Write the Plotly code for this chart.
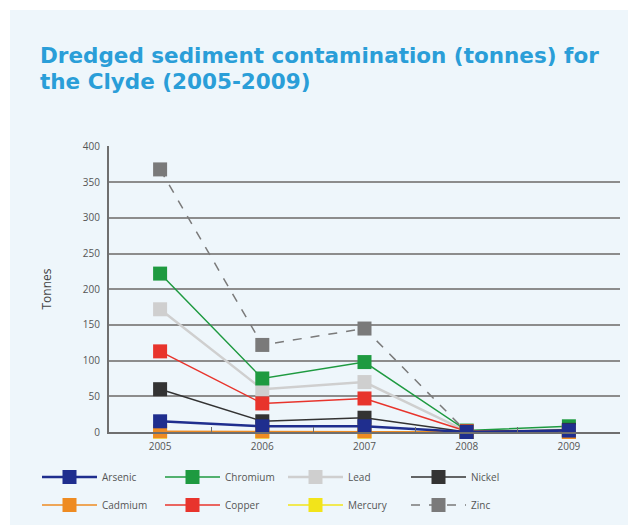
import plotly.graph_objects as go

years = ["2005", "2006", "2007", "2008", "2009"]

arsenic = [15, 8, 8, 0, 2]
cadmium = [1, 1, 1, 0, 0]
chromium = [222, 75, 98, 2, 8]
copper = [113, 40, 47, 1, 2]
lead = [172, 60, 70, 1, 3]
mercury = [0.5, 0.5, 0.5, 0, 0]
nickel = [60, 15, 20, 0, 3]
zinc = [368, 122, 145, 0, 0]

# (name, values, colour, dash, line width, legend, rank) in drawing order
series = [
    ("Zinc", zinc, "#7a7a7a", "dash", 1.5, "legend2", 4),
    ("Lead", lead, "#cfcfcf", "solid", 2.5, "legend", 3),
    ("Chromium", chromium, "#1e9a40", "solid", 1.5, "legend", 2),
    ("Copper", copper, "#e8342c", "solid", 1.5, "legend2", 2),
    ("Nickel", nickel, "#333333", "solid", 1.5, "legend", 4),
    ("Mercury", mercury, "#f2e41a", "solid", 1.5, "legend2", 3),
    ("Cadmium", cadmium, "#ee8b22", "solid", 1.5, "legend2", 1),
    ("Arsenic", arsenic, "#1f2e8e", "solid", 2.5, "legend", 1),
]

PANEL = "#eef6fb"
GRID = "#8c8c8c"
TEXT = "#555555"

# the page has an 8px body margin, so work in figure pixels = page pixels - 8
OFF = 8
W, H = 636 - OFF, 531 - OFF
L, T = 109 - OFF, 146 - OFF
PW, PH = 620 - 109, 432 - 146
R, B = W - L - PW, H - T - PH


def px_x(page_x):
    return (page_x - OFF - L) / PW


def px_y(page_y):
    return 1 - (page_y - OFF - T) / PH


fig = go.Figure()
for name, values, color, dash, width, legend, rank in series:
    fig.add_trace(go.Scatter(
        x=years, y=values, name=name, mode="lines+markers",
        line=dict(color=color, dash=dash, width=width),
        marker=dict(symbol="square", size=14, color=color),
        legend=legend, legendrank=rank, cliponaxis=False))

legend_style = dict(
    orientation="h", xref="container", yref="container",
    xanchor="left", yanchor="middle", x=29 / W,
    itemwidth=55, entrywidth=53, entrywidthmode="pixels",
    bgcolor="rgba(0,0,0,0)", font=dict(family="Open Sans", size=10, color=TEXT))

title_font = dict(family="DejaVu Sans", size=21.5, color="#2a9ed8")

fig.update_layout(
    width=W, height=H,
    margin=dict(l=L, r=R, t=T, b=B, autoexpand=False),
    paper_bgcolor="white", plot_bgcolor=PANEL,
    font=dict(family="Open Sans", color=TEXT),
    title=dict(
        text="<b>Dredged sediment contamination (tonnes) for</b>",
        xref="container", yref="container", x=(40 - OFF) / W, xanchor="left",
        y=1 - (55.5 - OFF) / H, yanchor="middle", font=title_font),
    annotations=[dict(
        text="<b>the Clyde (2005-2009)</b>", showarrow=False,
        xref="paper", yref="paper", xanchor="left", yanchor="middle",
        x=px_x(38), y=px_y(81.5), font=title_font)],
    legend=dict(y=1 - (477 - OFF) / H, **legend_style),
    legend2=dict(y=1 - (505 - OFF) / H, **legend_style),
    shapes=[dict(type="rect", xref="paper", yref="paper", layer="below",
                 x0=px_x(10), x1=px_x(640), y0=px_y(525), y1=px_y(10),
                 fillcolor=PANEL, line=dict(width=0))],
)

fig.update_xaxes(
    type="category", range=[-0.5, 4.5], showgrid=False, automargin=False,
    showline=True, linecolor="#6f6f6f", linewidth=2,
    ticks="inside", tickson="boundaries", ticklen=5, tickcolor="#6f6f6f",
    ticklabelstandoff=4, tickfont=dict(size=10, color=TEXT))

fig.update_yaxes(
    range=[0, 400.8], tick0=0, dtick=50, showgrid=True, gridcolor=GRID, gridwidth=2,
    zeroline=False, showline=True, linecolor="#6f6f6f", linewidth=2, automargin=False,
    ticklabelstandoff=5, tickfont=dict(size=10, color=TEXT),
    title=dict(text="Tonnes", standoff=29, font=dict(size=12, color="#444444")))

fig.write_html("out.html")
